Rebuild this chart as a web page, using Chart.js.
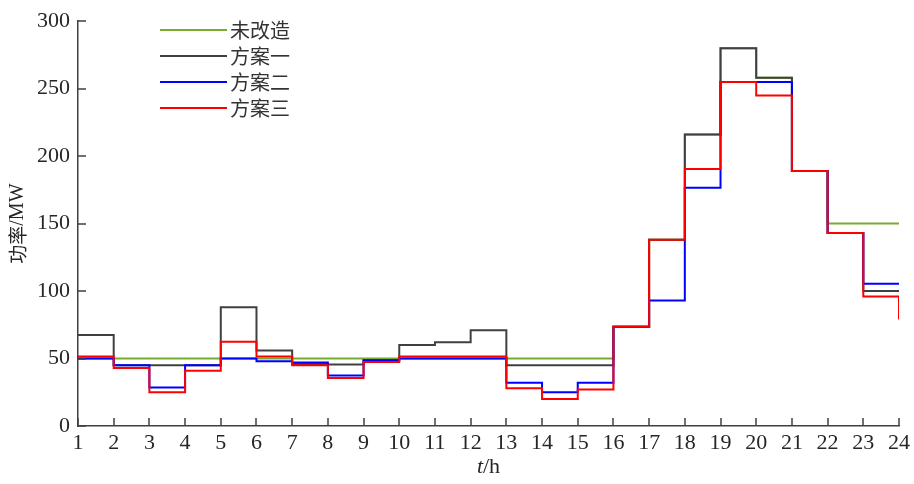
<!DOCTYPE html>
<html>
<head>
<meta charset="utf-8">
<script src="https://cdn.jsdelivr.net/npm/chart.js@4/dist/chart.umd.min.js"></script>
<style>
  html, body { margin: 0; padding: 0; background: #fff; }
  #wrap { width: 914px; height: 484px; position: relative; }
</style>
</head>
<body>
<div id="wrap"><canvas id="powerChart"></canvas></div>
<script>
// hours and power per scheme (MW)
const hours = [1, 2, 3, 4, 5, 6, 7, 8, 9, 10, 11, 12, 13, 14, 15, 16, 17, 18, 19, 20, 21, 22, 23, 24];
const unmodified = [50, 50, 50, 50, 50, 50, 50, 50, 50, 50, 50, 50, 50, 50, 50, 73.5, 138, 216, 280, 258, 189, 150, 150, 150];
const scheme1 = [67.5, 45, 45, 45, 88, 56, 46, 45.5, 49, 60, 62, 71, 45, 45, 45, 73.5, 138, 216, 280, 258, 189, 143, 100, 100];
const scheme2 = [50, 45, 28.5, 45, 50, 48, 47, 37.5, 48.5, 50, 50, 50, 32, 25, 32, 73.5, 93, 176.5, 255, 255, 189, 143, 105.5, 105.5];
const scheme3 = [51.5, 43, 25, 41, 62.5, 51.5, 45, 35.5, 47.5, 51.5, 51.5, 51.5, 28, 20, 27, 73.5, 138, 190.5, 255, 245, 189, 143, 96, 79];
const seriesNames = ['未改造', '方案一', '方案二', '方案三'];
const seriesColors = ['#77AC30', '#404040', '#0000FF', '#FF0000'];
const yTicks = [0, 50, 100, 150, 200, 250, 300];

const axisColor = '#404040';
const serif = "'Liberation Serif', 'Times New Roman', serif";
const cjk = "'Noto Sans CJK SC', sans-serif";

function toPoints(values) {
  return hours.map((h, i) => ({ x: h, y: values[i] }));
}

const allSeries = [unmodified, scheme1, scheme2, scheme3];
const datasets = allSeries.map((values, i) => ({
  label: seriesNames[i],
  data: toPoints(values),
  borderColor: seriesColors[i],
  backgroundColor: seriesColors[i],
  borderWidth: 2,
  stepped: 'before',
  pointRadius: 0,
  fill: false,
  order: allSeries.length - i
}));

// inward tick marks, axis titles and the legend inside the plot
const decorations = {
  id: 'decorations',
  afterDraw(chart) {
    const ctx = chart.ctx;
    const area = chart.chartArea;
    const xs = chart.scales.x;
    const ys = chart.scales.y;
    ctx.save();
    ctx.strokeStyle = axisColor;
    ctx.lineWidth = 1.5;
    ctx.beginPath();
    hours.forEach(h => {
      const px = Math.round(xs.getPixelForValue(h));
      ctx.moveTo(px, area.bottom);
      ctx.lineTo(px, area.bottom - 8);
    });
    yTicks.forEach(v => {
      const py = Math.round(ys.getPixelForValue(v));
      ctx.moveTo(area.left, py);
      ctx.lineTo(area.left + 8, py);
    });
    ctx.stroke();

    // x title: italic t + /h
    ctx.fillStyle = '#262626';
    ctx.textBaseline = 'middle';
    const midX = (area.left + area.right) / 2;
    ctx.font = 'italic 22px ' + serif;
    const tW = ctx.measureText('t').width;
    ctx.font = '22px ' + serif;
    const hW = ctx.measureText('/h').width;
    const startX = midX - (tW + hW) / 2;
    ctx.textAlign = 'left';
    ctx.font = 'italic 22px ' + serif;
    ctx.fillText('t', startX, 467);
    ctx.font = '22px ' + serif;
    ctx.fillText('/h', startX + tW, 467);

    // y title, rotated
    ctx.save();
    ctx.translate(18, (area.top + area.bottom) / 2);
    ctx.rotate(-Math.PI / 2);
    const a = '功率';
    ctx.font = '19px ' + cjk;
    const aW = ctx.measureText(a).width;
    ctx.font = '20px ' + serif;
    const bW = ctx.measureText('/MW').width;
    ctx.textAlign = 'left';
    ctx.font = '19px ' + cjk;
    ctx.fillText(a, -(aW + bW) / 2, 0);
    ctx.font = '20px ' + serif;
    ctx.fillText('/MW', -(aW + bW) / 2 + aW, 0);
    ctx.restore();

    // legend
    ctx.font = '20px ' + cjk;
    ctx.textAlign = 'left';
    seriesNames.forEach((name, i) => {
      const y = 30 + i * 26;
      ctx.strokeStyle = seriesColors[i];
      ctx.lineWidth = 2;
      ctx.beginPath();
      ctx.moveTo(160, y);
      ctx.lineTo(227, y);
      ctx.stroke();
      ctx.fillStyle = '#333';
      ctx.fillText(name, 230, y);
    });
    ctx.restore();
  }
};

new Chart(document.getElementById('powerChart'), {
  type: 'line',
  data: { datasets: datasets },
  options: {
    responsive: true,
    maintainAspectRatio: false,
    animation: false,
    layout: { padding: { left: 0, top: 18, right: 15, bottom: 0 } },
    plugins: {
      legend: { display: false },
      tooltip: { enabled: false }
    },
    scales: {
      x: {
        type: 'linear',
        min: 1,
        max: 24,
        afterBuildTicks: scale => { scale.ticks = hours.map(v => ({ value: v })); },
        afterFit: scale => { scale.height = 58; },
        grid: { display: false, drawTicks: false, tickLength: 0 },
        border: { display: true, color: axisColor, width: 1.5 },
        ticks: {
          autoSkip: false,
          maxRotation: 0,
          padding: 4,
          color: '#262626',
          font: { family: serif, size: 22 }
        }
      },
      y: {
        min: 0,
        max: 300,
        afterBuildTicks: scale => { scale.ticks = yTicks.map(v => ({ value: v })); },
        afterFit: scale => { scale.width = 78; },
        grid: { display: false, drawTicks: false, tickLength: 0 },
        border: { display: true, color: axisColor, width: 1.5 },
        ticks: {
          padding: 8,
          color: '#262626',
          font: { family: serif, size: 22 }
        }
      }
    }
  },
  plugins: [decorations]
});
</script>
</body>
</html>
